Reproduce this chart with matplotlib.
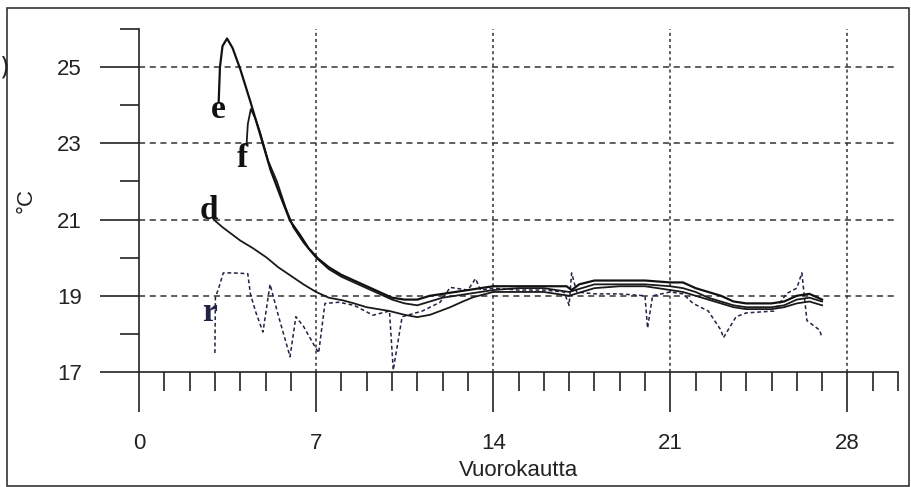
import matplotlib.pyplot as plt
from matplotlib.patches import Rectangle
from matplotlib.ticker import MultipleLocator

# readings (day, degC)
e_x = [3.15, 3.2, 3.3, 3.48, 3.7, 4.0, 4.4, 4.78, 5.2, 5.6, 5.97, 6.36, 6.7, 7.07, 7.5, 8.0, 8.5, 9.0,
       9.5, 10.0, 10.5, 11.0, 11.5, 12.0, 12.5, 13.0, 13.5, 14.0, 15.0, 16.0, 16.9, 17.1, 17.4, 18.0,
       19.0, 20.0, 21.0, 21.5, 22.0, 22.5, 23.0, 23.5, 24.0, 25.0, 25.5, 26.0, 26.5, 27.0]
e_y = [24.1, 25.0, 25.55, 25.75, 25.5, 24.95, 24.1, 23.25, 22.3, 21.6, 20.97, 20.6, 20.25, 19.98, 19.75,
       19.55, 19.4, 19.25, 19.1, 18.95, 18.9, 18.9, 19.0, 19.05, 19.1, 19.15, 19.2, 19.25, 19.25, 19.25,
       19.25, 19.15, 19.3, 19.4, 19.4, 19.4, 19.35, 19.35, 19.2, 19.1, 19.0, 18.85, 18.8, 18.8, 18.85,
       19.0, 19.05, 18.9]

f_x = [4.25, 4.3, 4.42, 4.6, 4.78, 5.1, 5.45, 5.8, 6.1, 6.5, 7.0, 7.5, 8.0, 8.5, 9.0, 9.5, 10.0, 10.5,
       11.0, 11.5, 12.0, 12.5, 13.0, 13.5, 14.0, 15.0, 16.0, 17.0, 17.5, 18.0, 19.0, 20.0, 21.0, 21.5,
       22.0, 22.5, 23.0, 23.5, 24.0, 25.0, 25.5, 26.0, 26.5, 27.0]
f_y = [22.95, 23.5, 23.9, 23.65, 23.3, 22.55, 22.0, 21.3, 20.8, 20.4, 20.0, 19.7, 19.5, 19.35, 19.2,
       19.05, 18.9, 18.8, 18.75, 18.85, 18.95, 19.0, 19.05, 19.1, 19.15, 19.2, 19.2, 19.1, 19.2, 19.3,
       19.3, 19.3, 19.25, 19.2, 19.1, 18.95, 18.85, 18.75, 18.7, 18.7, 18.75, 18.9, 18.95, 18.85]

d_x = [2.95, 3.3, 3.6, 4.0, 4.5, 5.05, 5.5, 6.1, 6.5, 7.0, 7.5, 8.06, 8.5, 9.0, 9.9, 10.5, 11.0, 11.5,
       12.3, 12.8, 13.2, 14.0, 15.0, 16.0, 17.0, 17.5, 18.0, 19.0, 20.0, 21.0, 21.5, 22.0, 22.5, 23.0,
       23.5, 24.0, 25.0, 25.5, 26.0, 26.5, 27.0]
d_y = [21.0, 20.8, 20.65, 20.45, 20.25, 20.0, 19.75, 19.48, 19.3, 19.1, 18.95, 18.88, 18.8, 18.7, 18.6,
       18.5, 18.44, 18.5, 18.7, 18.85, 18.96, 19.1, 19.1, 19.1, 19.0, 19.1, 19.2, 19.25, 19.25, 19.15,
       19.1, 19.0, 18.9, 18.8, 18.7, 18.65, 18.65, 18.7, 18.8, 18.85, 18.75]

r_x = [3.0, 3.02, 3.15, 3.33, 3.7, 4.3, 4.4, 4.6, 4.9, 5.18, 5.5, 5.97, 6.2, 6.5, 6.96, 7.1, 7.35, 7.9,
       8.5, 9.25, 9.9, 10.05, 10.4, 11.2, 11.9, 12.3, 13.0, 13.3, 13.5, 14.0, 15.0, 16.0, 16.8, 17.0,
       17.1, 17.3, 18.0, 19.0, 20.0, 20.1, 20.3, 21.0, 21.5, 21.9, 22.5, 23.0, 23.1, 23.6, 24.0, 25.1,
       25.6, 26.0, 26.2, 26.4, 26.9, 27.0]
r_y = [17.5, 18.96, 19.2, 19.6, 19.6, 19.58, 19.06, 18.6, 18.05, 19.3, 18.5, 17.4, 18.45, 18.2, 17.66,
       17.5, 18.8, 18.83, 18.75, 18.49, 18.6, 17.05, 18.45, 18.6, 18.83, 19.22, 19.15, 19.45, 19.15, 19.2,
       19.15, 19.15, 19.1, 18.75, 19.6, 19.1, 19.05, 19.05, 19.0, 18.15, 19.0, 19.1, 19.05, 18.8, 18.6,
       18.1, 17.9, 18.45, 18.55, 18.6, 19.06, 19.2, 19.6, 18.35, 18.1, 17.9]

labels = ["e", "f", "d", "r"]
label_x = [3.12, 4.1, 2.77, 2.77]
label_y = [23.9, 22.6, 21.25, 18.57]

W, H = 911, 487
fig = plt.figure(figsize=(W / 100, H / 100), dpi=100)
ax = fig.add_axes([139 / W, (H - 372) / H, (898 - 139) / W, (372 - 29) / H])
ax.set_xlim(0, 30)
ax.set_ylim(17, 26)

# outer frame of the scanned figure
fig.patches.append(Rectangle((7 / W, 1 / H), (909 - 7) / W, (479 - 1) / H, transform=fig.transFigure,
                             fill=False, edgecolor="#333333", linewidth=1.2))
fig.text(0, (H - 68) / H, ")", ha="left", va="center", fontsize=18, color="#222222")

for s in ["top", "right"]:
    ax.spines[s].set_visible(False)
for s in ["left", "bottom"]:
    ax.spines[s].set_color("#222222")
    ax.spines[s].set_linewidth(1.2)

ax.xaxis.set_major_locator(MultipleLocator(7))
ax.xaxis.set_minor_locator(MultipleLocator(1))
ax.yaxis.set_minor_locator(MultipleLocator(1))
ax.set_yticks([17, 19, 21, 23, 25])
ax.tick_params(axis="x", which="major", direction="out", length=29, width=1.2, pad=15,
               labelsize=16, color="#222222")
ax.tick_params(axis="x", which="minor", direction="out", length=14, width=1.2, color="#222222")
ax.tick_params(axis="y", which="major", direction="out", length=28, width=1.2, pad=13,
               labelsize=16, color="#222222")
ax.tick_params(axis="y", which="minor", direction="out", length=14, width=1.2, color="#222222")
for t in ax.get_xticklabels() + ax.get_yticklabels():
    t.set_fontfamily("Liberation Sans")
    t.set_color("#222222")

for yv in [19, 21, 23, 25]:
    ax.axhline(yv, color="#333333", linestyle=(0, (4, 3)), linewidth=1.1, zorder=1)
for xv in [7, 14, 21, 28]:
    ax.axvline(xv, color="#333333", linestyle=(0, (2, 2)), linewidth=1.1, zorder=1)

ax.plot(d_x, d_y, color="#1a1a1a", linewidth=1.3, zorder=3)
ax.plot(f_x, f_y, color="#1a1a1a", linewidth=1.3, zorder=3)
ax.plot(e_x, e_y, color="#111111", linewidth=1.6, zorder=4)
ax.plot(r_x, r_y, color="#222244", linewidth=1.1, linestyle=(0, (2.5, 1.8)), zorder=2)

for lab, lx, ly in zip(labels, label_x, label_y):
    ax.text(lx, ly, lab, ha="center", va="center", fontsize=24, fontweight="bold",
            family="Liberation Serif", color="#222244" if lab == "r" else "#111111", zorder=5)

ax.set_xlabel("Vuorokautta", fontsize=16, family="Liberation Sans", color="#222222")
ax.xaxis.set_label_coords(0.5, -(470 - 372) / (372 - 29), transform=ax.transAxes)
ax.xaxis.label.set_va("center")
ax.set_ylabel("°C", fontsize=16, family="Liberation Sans", color="#222222")
ax.yaxis.set_label_coords(-(139 - 26) / (898 - 139), 0.5, transform=ax.transAxes)
ax.yaxis.label.set_va("center")

fig.savefig("out.png", dpi=100)
